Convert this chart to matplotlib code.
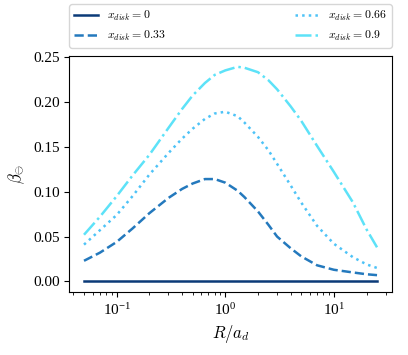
import numpy as np
import matplotlib
matplotlib.use("Agg")
import matplotlib.pyplot as plt

plt.rcParams['font.family'] = ['Liberation Serif', 'DejaVu Serif']
plt.rcParams['mathtext.fontset'] = 'cm'

# R / a_d sampling
R = [0.05, 0.07, 0.1, 0.14, 0.2, 0.3, 0.4, 0.5, 0.65, 0.8, 1.0, 1.3, 1.5, 2.0, 2.5, 3.0, 4.0, 5.0, 7.0, 10.0, 15.0, 20.0, 25.0]

beta_0 = [0.0] * len(R)
beta_033 = [0.023, 0.032, 0.044, 0.059, 0.076, 0.093, 0.103, 0.109, 0.114, 0.114, 0.110, 0.101, 0.094, 0.078, 0.063, 0.050, 0.037, 0.028, 0.018, 0.013, 0.010, 0.008, 0.007]
beta_066 = [0.041, 0.057, 0.074, 0.095, 0.119, 0.143, 0.159, 0.170, 0.181, 0.187, 0.189, 0.184, 0.177, 0.161, 0.146, 0.131, 0.107, 0.088, 0.062, 0.042, 0.027, 0.019, 0.015]
beta_09 = [0.052, 0.072, 0.095, 0.118, 0.141, 0.171, 0.192, 0.207, 0.221, 0.230, 0.235, 0.239, 0.238, 0.233, 0.224, 0.214, 0.195, 0.179, 0.151, 0.122, 0.088, 0.058, 0.038]

labels = [r'$x_{disk}=0$', r'$x_{disk}=0.33$', r'$x_{disk}=0.66$', r'$x_{disk}=0.9$']
colors = ['#0b3a78', '#2479bd', '#4ec3f7', '#5de2f8']
styles = ['-', '--', ':', '-.']

fig = plt.figure(figsize=(4.08, 3.55), dpi=100)
ax = fig.add_axes([0.170, 0.177, 0.790, 0.665])

for y, lab, c, ls in zip([beta_0, beta_033, beta_066, beta_09], labels, colors, styles):
    ax.plot(R, y, ls, color=c, lw=1.8, label=lab)

ax.set_xscale('log')
ax.set_xlabel(r'$R/a_d$', fontsize=12)
ax.set_ylabel(r'$\beta_{\ominus}$', fontsize=12)
ax.set_yticks([0.0, 0.05, 0.10, 0.15, 0.20, 0.25])
ax.tick_params(labelsize=11)

ax.legend(loc='lower left', bbox_to_anchor=(0.0, 1.035, 1.0, 0.2), ncol=2,
          mode='expand', fontsize=8.5, borderaxespad=0.0, frameon=True)

fig.savefig('out.png', dpi=100)
